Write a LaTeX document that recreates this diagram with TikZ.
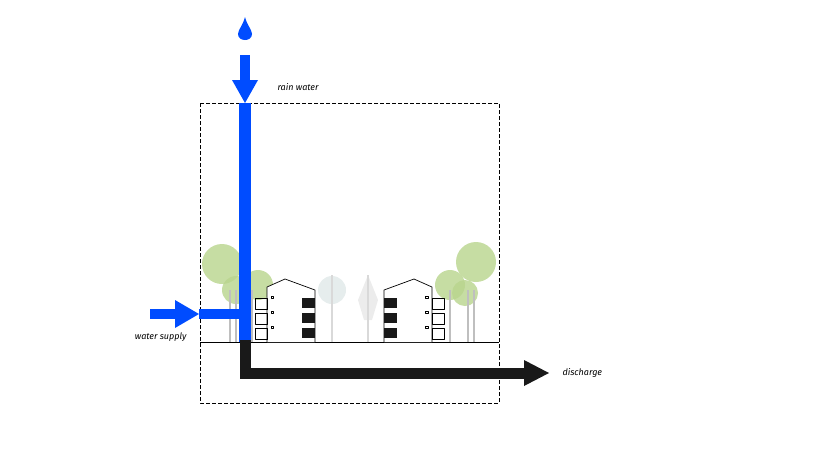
\documentclass[tikz,border=0pt]{standalone}
\usepackage{fontspec}
\setmainfont{Fira Sans}
\definecolor{flowblue}{rgb}{0,0.3,1}
\definecolor{flowblack}{rgb}{0.1,0.1,0.1}
\definecolor{leafgreen}{rgb}{0.72,0.83,0.55}
\definecolor{paletree}{rgb}{0.86,0.9,0.9}
\tikzset{
  flow/.style={line width=10pt,line cap=butt},
  tip/.style={fill},
  label/.style={font=\itshape\small},
  trunk/.style={draw=gray!50,line width=1.2pt},
}
\begin{document}
\begin{tikzpicture}[line join=round,x=1pt,y=-1pt]
\useasboundingbox (0,0) rectangle (813,459);
% site boundary and ground
\draw[dash pattern=on 4pt off 2pt,line width=0.5pt] (200,103) rectangle (499,403);
\draw[line width=0.6pt] (200,342) -- (499,342);
% pale trees in the middle
\fill[paletree,opacity=0.7] (332,290) circle (14);
\fill[gray!15] (368,275) -- (378,300) -- (372,320) -- (364,320) -- (358,300) -- cycle;
\foreach \x in {332,368}
  \draw[trunk,gray!30] (\x,342) -- (\x,275);
% green trees
\foreach \x/\y/\r in {222/264/20,258/285/15,236/290/14,476/262/20,450/285/15,465/293/13}
  \fill[leafgreen,opacity=0.8] (\x,\y) circle (\r);
\foreach \x in {230,236,252,468,474,450}
  \draw[trunk] (\x,342) -- (\x,290);
% buildings
\foreach \a/\s in {285/1,414/-1}{
  \draw[fill=white,line width=0.7pt] (\a-18*\s,342) -- (\a-18*\s,287) -- (\a,279)
     -- (\a+30*\s,290) -- (\a+30*\s,342);
  \foreach \y in {298,313,328}{
    \fill[flowblack] (\a+17*\s,\y) rectangle (\a+30*\s,\y+10);
    \draw[line width=0.6pt] (\a-18*\s,\y) rectangle (\a-30*\s,\y+11);
    \draw[line width=0.5pt] (\a-14*\s,\y-2) rectangle ++(2.5*\s,2.5);
  }
}
% drop
\fill[flowblue] (245,17) .. controls (243,25) and (238,30) .. (238,34)
  .. controls (238,42) and (252,42) .. (252,34) .. controls (252,30) and (247,25) .. (245,17);
% rain water
\coordinate (rainstart) at (245,55);
\coordinate (rainhead) at (245,80);
\coordinate (raintip) at (245,103);
\coordinate (rainend) at (245,342);
\draw[flow,flowblue] (rainstart) -- (rainhead);
\fill[flowblue] (232,80) -- (258,80) -- (raintip) -- cycle;
\draw[flow,flowblue,line width=12pt] (raintip) -- (rainend);
\node[label,anchor=west] (rainlbl) at (274,87) {rain water};
% water supply
\coordinate (supplystart) at (150,314);
\coordinate (supplyhead) at (175,314);
\coordinate (supplyend) at (240,314);
\draw[flow,flowblue] (supplystart) -- (supplyhead);
\fill[flowblue] (175,300) -- (175,328) -- (199,314) -- cycle;
\draw[flow,flowblue] (199,314) -- (supplyend);
\node[label,anchor=east] (supplylbl) at (190,337) {water supply};
% discharge
\coordinate (dischargestart) at (245,340);
\coordinate (dischargebend) at (245,373);
\coordinate (dischargehead) at (524,373);
\draw[flow,flowblack,line width=11pt,line join=miter] (dischargestart) -- (dischargebend) -- (dischargehead);
\fill[flowblack] (524,360) -- (524,386) -- (549,373) -- cycle;
\node[label,anchor=west] (dischargelbl) at (559,373) {discharge};
\end{tikzpicture}
\end{document}
